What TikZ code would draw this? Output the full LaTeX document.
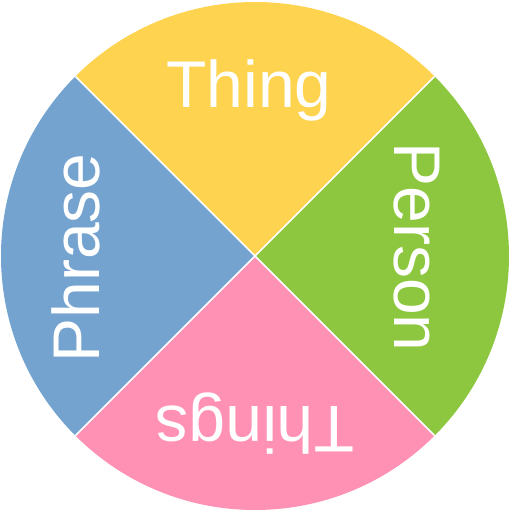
\documentclass[tikz,border=0pt]{standalone}
\usepackage{fontspec}
\setmainfont{Liberation Sans}
\usepackage{xcolor}
\definecolor{thingyellow}{RGB}{254,211,80}
\definecolor{persongreen}{RGB}{141,198,63}
\definecolor{thingspink}{RGB}{255,145,180}
\definecolor{phraseblue}{RGB}{116,163,208}

\begin{document}
\begin{tikzpicture}[x=1pt, y=1pt, lbl/.style = {text=white, inner sep=0pt, anchor=base, font=\fontsize{66}{66}\selectfont}, sep/.style = {white, line width=1.5pt}]
\useasboundingbox (-255,-256) rectangle (257,256);
\coordinate (c) at (0,0);
\foreach \a/\col in {45/thingyellow,135/phraseblue,225/thingspink,315/persongreen}{\fill[\col] (c) -- (\a:254) arc (\a:\a+90:254) -- cycle;}
\foreach \a in {45,135,225,315}{\draw[sep] (c) -- (\a:254);}
\node[lbl] (thing) at (-6,149){Thing};
\node[lbl, rotate=-90] (person) at (140,9){Person};
\node[lbl, rotate=180] (things) at (0,-150){Things};
\node[lbl, rotate=90] (phrase) at (-155,-2){Phrase};
\end{tikzpicture}
\end{document}
